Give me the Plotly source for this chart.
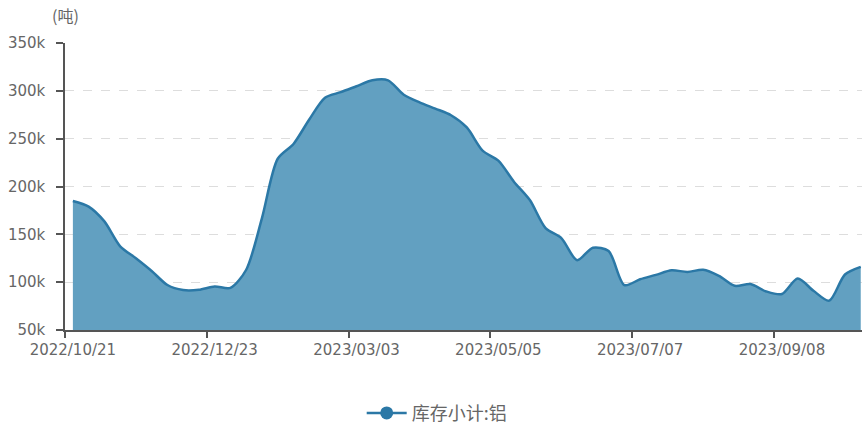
import plotly.graph_objects as go

dates = [
    "2022/10/21", "2022/10/28", "2022/11/04", "2022/11/11", "2022/11/18", "2022/11/25",
    "2022/12/02", "2022/12/09", "2022/12/16", "2022/12/23", "2022/12/30", "2023/01/06",
    "2023/01/13", "2023/01/20", "2023/02/03", "2023/02/10", "2023/02/17", "2023/02/24",
    "2023/03/03", "2023/03/10", "2023/03/17", "2023/03/24", "2023/03/31", "2023/04/07",
    "2023/04/14", "2023/04/21", "2023/04/28", "2023/05/05", "2023/05/12", "2023/05/19",
    "2023/05/26", "2023/06/02", "2023/06/09", "2023/06/16", "2023/06/21", "2023/06/30",
    "2023/07/07", "2023/07/14", "2023/07/21", "2023/07/28", "2023/08/04", "2023/08/11",
    "2023/08/18", "2023/08/25", "2023/09/01", "2023/09/08", "2023/09/15", "2023/09/22",
    "2023/09/28", "2023/10/13", "2023/10/20",
]

inventory = [
    184800, 179000, 163500, 137500, 125000, 111700, 97000, 91700, 92000, 95500,
    94000, 113000, 167000, 229000, 244500, 270000, 292800, 298600, 304800, 311000,
    311000, 296000, 288000, 281400, 274500, 261700, 237500, 227000, 204800, 185800,
    156500, 146000, 123000, 136000, 132500, 97000, 103000, 107600, 112400, 110700,
    113000, 106600, 96200, 98000, 90300, 87600, 103800, 91000, 80700, 108000,
    116000,
]

y_ticks = [50000, 100000, 150000, 200000, 250000, 300000, 350000]
y_tick_text = ["50k", "100k", "150k", "200k", "250k", "300k", "350k"]

series_name = "库存小计:铝"
line_color = "#2b78a6"
fill_color = "#62a0c1"
axis_color = "#555555"
text_color = "#666666"

fig = go.Figure()
fig.add_trace(go.Scatter(
    x=dates, y=inventory, mode="lines",
    line=dict(color=line_color, width=2.5, shape="spline", smoothing=0.8),
    fill="tozeroy", fillcolor=fill_color,
    showlegend=False, hoverinfo="x+y",
))
fig.add_trace(go.Scatter(
    x=[None], y=[None], mode="lines+markers", name=series_name,
    line=dict(color=line_color, width=2.5),
    marker=dict(color=line_color, size=13, symbol="circle"),
    showlegend=True,
))

fig.update_layout(
    width=862, height=432,
    margin=dict(l=65, r=0, t=43, b=99),
    paper_bgcolor="white", plot_bgcolor="white",
    font=dict(family="DejaVu Sans", size=15, color=text_color),
    legend=dict(
        orientation="h", x=0.467, xanchor="center", y=-0.29, yanchor="middle",
        font=dict(family="Noto Sans CJK SC", size=18, color=text_color),
        itemwidth=40,
    ),
    annotations=[dict(
        text="(吨)", xref="paper", yref="paper", x=0.0, y=1.0, yshift=28,
        xanchor="center", yanchor="middle", showarrow=False,
        font=dict(family="Noto Sans CJK SC", size=16, color=text_color),
    )],
)

fig.update_xaxes(
    type="category", range=[-0.5, len(dates) - 0.92],
    tickmode="linear", tick0=0, dtick=9, tickson="boundaries", tickangle=0,
    ticks="outside", ticklen=6, tickcolor=axis_color, tickwidth=1.5,
    ticklabelstandoff=5,
    showline=True, linecolor=axis_color, linewidth=1.5,
    showgrid=False, zeroline=False, automargin=False,
    tickfont=dict(family="DejaVu Sans", size=15, color=text_color),
)
fig.update_yaxes(
    range=[50000, 350000], tickmode="array", tickvals=y_ticks, ticktext=y_tick_text,
    ticks="outside", ticklen=7, tickcolor=axis_color, tickwidth=1.5,
    ticklabelstandoff=8,
    showline=True, linecolor=axis_color, linewidth=1.5,
    showgrid=True, gridcolor="#dddddd", griddash="dash", gridwidth=1,
    zeroline=False, automargin=False,
    tickfont=dict(family="DejaVu Sans", size=15, color=text_color),
)

fig.write_html(
    "out.html",
    config={"displayModeBar": False},
    post_script=(
        "document.body.style.margin='0';"
        "var gd=document.getElementById('{plot_id}');"
        "gd.style.position='fixed';gd.style.top='0px';gd.style.left='0px';"
    ),
)
